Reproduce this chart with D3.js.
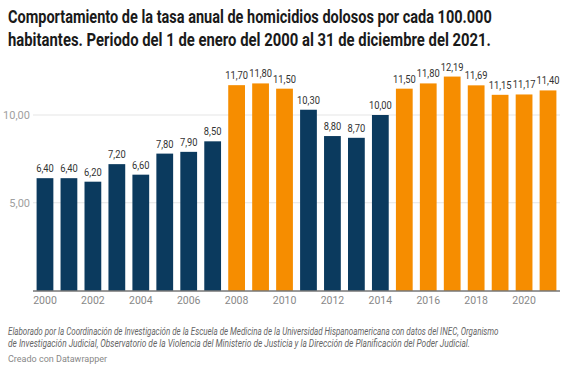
<!DOCTYPE html>
<html><head><meta charset="utf-8">
<script src="https://cdn.jsdelivr.net/npm/d3@7"></script>
<style>body{margin:0;background:#fff;font-family:Roboto,sans-serif}</style>
</head><body><svg id="c" width="583" height="373"></svg>
<script>
const years = d3.range(2000, 2022);
const values = [6.40,6.40,6.20,7.20,6.60,7.80,7.90,8.50,11.70,11.80,11.50,10.30,8.80,8.70,10.00,11.50,11.80,12.19,11.69,11.15,11.17,11.40];
const highlighted = [2008,2009,2010,2015,2016,2017,2018,2019,2020,2021];
const yTicks = [5,10];
const xTickYears = [2000,2002,2004,2006,2008,2010,2012,2014,2016,2018,2020];
const titleLines = ["Comportamiento de la tasa anual de homicidios dolosos por cada 100.000","habitantes. Periodo del 1 de enero del 2000 al 31 de diciembre del 2021."];
const notesLines = ["Elaborado por la Coordinación de Investigación de la Escuela de Medicina de la Universidad Hispanoamericana con datos del INEC, Organismo","de Investigación Judicial, Observatorio de la Violencia del Ministerio de Justicia y la Dirección de Planificación del Poder Judicial."];
const credit = "Creado con Datawrapper";

const fmt = v => v.toFixed(2).replace(".", ",");
const svg = d3.select("#c");
const x = d3.scaleBand().domain(years).range([33, 560]).paddingInner(0.3).paddingOuter(0.15);
const y = d3.scaleLinear().domain([0, 10]).range([290.5, 115]);

// fit helper: horizontally condense text to a target width
function fit(sel, target) {
  sel.each(function(d, i) {
    const t = d3.select(this);
    const w = this.getComputedTextLength();
    const tw = typeof target === "function" ? target(d, i) : target;
    const s = Math.min(1, tw / w);
    t.attr("transform", `translate(${t.attr("data-x")},${t.attr("data-y")}) scale(${s},1)`);
  });
}

// title
svg.append("g").selectAll("text").data(titleLines).join("text")
  .attr("data-x", 8).attr("data-y", (d,i) => 23 + i*23)
  .attr("font-size", 18).attr("font-weight", 700).attr("fill", "#1a1a1a")
  .text(d => d)
  .call(fit, (d,i) => i===0 ? 484 : 483);

// gridlines
const g = svg.append("g");
g.selectAll("line.grid").data(yTicks).join("line")
  .attr("x1", 33).attr("x2", 560).attr("y1", d => y(d)).attr("y2", d => y(d))
  .attr("stroke", "#e5e5e5").attr("stroke-width", 1);
g.selectAll("text.yl").data(yTicks).join("text")
  .attr("x", 30).attr("y", d => y(d) + 4).attr("text-anchor", "end")
  .attr("font-size", 11).attr("fill", "#a0a0a0").text(d => fmt(d));

// bars
g.selectAll("rect").data(years).join("rect")
  .attr("x", d => x(d)).attr("width", x.bandwidth())
  .attr("y", (d,i) => y(values[i])).attr("height", (d,i) => y(0) - y(values[i]))
  .attr("fill", d => highlighted.includes(d) ? "#f68d00" : "#0b3a5e");

// value labels
g.selectAll("text.vl").data(years).join("text")
  .attr("text-anchor", "middle").attr("font-size", 11).attr("fill", "#333")
  .attr("transform", (d,i) => `translate(${x(d) + x.bandwidth()/2},${y(values[i]) - 6}) scale(0.85,1)`)
  .text((d,i) => fmt(values[i]));

// baseline
g.append("line").attr("x1", 33).attr("x2", 560).attr("y1", y(0)+0.5).attr("y2", y(0)+0.5)
  .attr("stroke", "#333").attr("stroke-width", 1);

// x axis labels
const xAxis = d3.axisBottom(x).tickValues(xTickYears).tickSize(0).tickPadding(0);
const ax = svg.append("g").attr("transform", `translate(0,${y(0)+6})`).call(xAxis);
ax.select(".domain").remove();
ax.selectAll("text").attr("font-size", 10.5).attr("fill", "#888").attr("font-family", "Roboto").attr("dy", "0.71em");

// notes
svg.append("g").selectAll("text").data(notesLines).join("text")
  .attr("data-x", 8).attr("data-y", (d,i) => 335 + i*12)
  .attr("font-size", 10).attr("font-style", "italic").attr("fill", "#666")
  .text(d => d)
  .call(fit, (d,i) => i===0 ? 491 : 463);
svg.append("text").attr("x", 8).attr("y", 362).attr("font-size", 9).attr("fill", "#888").text(credit);
</script></body></html>
